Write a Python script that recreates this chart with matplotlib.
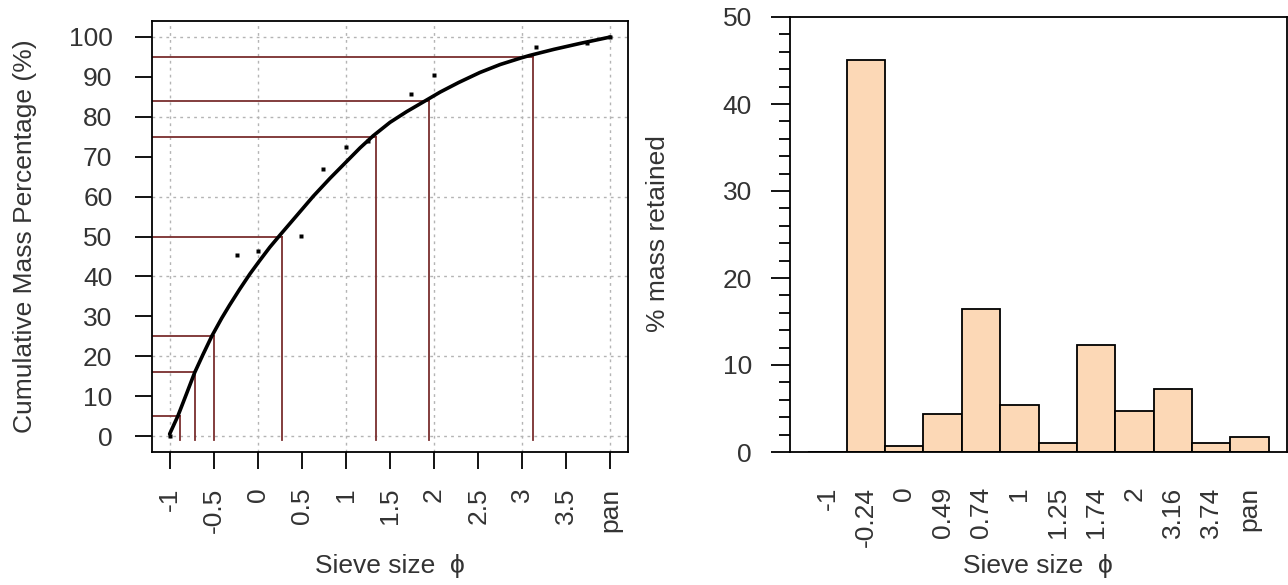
import numpy as np
import matplotlib
matplotlib.use("Agg")
import matplotlib.pyplot as plt
from matplotlib.ticker import MultipleLocator

plt.rcParams['font.family'] = ['Liberation Sans', 'DejaVu Sans']

# ---------------------------------------------------------------
# data
# ---------------------------------------------------------------
# cumulative points (phi, cumulative %); pan drawn at phi = 4
cum_phi = [-1, -0.24, 0, 0.49, 0.74, 1, 1.25, 1.74, 2, 3.16, 3.74, 4]
cum_pct = [0, 45.3, 46.3, 50.25, 67.0, 72.4, 74.0, 85.7, 90.5, 97.6, 98.6, 100]

# smoothed cumulative curve
curve_phi = [-1, -0.905, -0.81, -0.716, -0.62, -0.52, -0.41, -0.32, -0.205,
             -0.09, 0.023, 0.136, 0.25, 0.44, 0.63, 0.82, 1.008, 1.16, 1.31,
             1.5, 1.69, 1.9, 2.07, 2.28, 2.52, 2.75, 2.98, 3.09, 3.36, 3.66,
             3.96, 4]
curve_pct = [0.5, 5.1, 10.5, 15.9, 20.5, 25.1, 29.5, 32.8, 36.8,
             40.6, 44.0, 47.3, 50.3, 55.2, 60.1, 64.6, 68.8, 72.2, 75.25,
             78.6, 81.3, 84.0, 86.2, 88.6, 91.1, 93.1, 94.7, 95.4, 96.9, 98.4,
             99.8, 100]

# percentile read-offs
pctl = [5, 16, 25, 50, 75, 84, 95]
pctl_phi = [-0.88, -0.71, -0.50, 0.27, 1.34, 1.94, 3.12]

left_ticks = [-1, -0.5, 0, 0.5, 1, 1.5, 2, 2.5, 3, 3.5, 4]
left_ticklabels = ['-1', '-0.5', '0', '0.5', '1', '1.5', '2', '2.5', '3', '3.5', 'pan']

# histogram of mass retained per sieve
sieves = ['-1', '-0.24', '0', '0.49', '0.74', '1', '1.25', '1.74', '2',
          '3.16', '3.74', 'pan']
retained = [0, 45.0, 0.66, 4.33, 16.4, 5.37, 1.03, 12.3, 4.75, 7.2, 1.03, 1.69]

# ---------------------------------------------------------------
FS = 19
LINE_COL = '#7a2e2e'
GRID_COL = '#b4b4b4'
TXT = '#333333'

fig = plt.figure(figsize=(12.88, 5.85), dpi=100)
W, H = 1288, 585


def px_axes(l, t, r, b):
    return fig.add_axes([l / W, 1 - b / H, (r - l) / W, (b - t) / H])


# ---------------- left panel: cumulative curve ----------------
ax1 = px_axes(152, 21, 628, 452)
ax1.set_xlim(-1.2, 4.2)
ax1.set_ylim(-4, 104)

for gx in range(-1, 5):
    ax1.axvline(gx, color=GRID_COL, lw=1, ls=(0, (2, 3)), zorder=1)
for gy in range(0, 101, 20):
    ax1.axhline(gy, color=GRID_COL, lw=1, ls=(0, (2, 3)), zorder=1)

for p, ph in zip(pctl, pctl_phi):
    ax1.plot([-1.2, ph], [p, p], color=LINE_COL, lw=1.3, zorder=2)
    ax1.plot([ph, ph], [-1, p], color=LINE_COL, lw=1.3, zorder=2)

ax1.plot(curve_phi, curve_pct, color='black', lw=2.6, zorder=3,
         solid_capstyle='round', solid_joinstyle='round')
ax1.plot(cum_phi, cum_pct, ls='none', marker='s', ms=2.4, color='black',
         mec='none', zorder=4)

ax1.set_xticks(left_ticks)
ax1.set_xticklabels(left_ticklabels, rotation=90)
ax1.set_yticks(range(0, 101, 10))
ax1.tick_params(axis='x', length=12.5, width=1.3, pad=13, labelsize=FS,
                labelcolor=TXT)
ax1.tick_params(axis='y', length=12.5, width=1.3, pad=16, labelsize=FS,
                labelcolor=TXT)
for s in ax1.spines.values():
    s.set_linewidth(1.3)

fig.text(25 / W, 1 - 236 / H, 'Cumulative Mass Percentage (%)', rotation=90,
         ha='center', va='center', fontsize=FS, color=TXT)
fig.text(390 / W, 1 - 566 / H, 'Sieve size  \u03d5', ha='center', va='center',
         fontsize=FS, color=TXT)

# ---------------- right panel: histogram ----------------
ax2 = px_axes(790, 17, 1287, 452)
xpos = np.arange(len(sieves))
ax2.bar(xpos, retained, width=1.0, color='#fcd8b6', edgecolor='black',
        linewidth=1.3, zorder=2)
ax2.set_xlim(-0.98, 11.98)
ax2.set_ylim(0, 50)
ax2.set_xticks(xpos)
ax2.set_xticklabels(sieves, rotation=90)
ax2.tick_params(axis='x', length=0, pad=25, labelsize=FS, labelcolor=TXT)
ax2.set_yticks(range(0, 51, 10))
ax2.yaxis.set_minor_locator(MultipleLocator(2))
ax2.tick_params(axis='y', which='major', length=13.5, width=1.3, pad=14,
                labelsize=FS, labelcolor=TXT)
ax2.tick_params(axis='y', which='minor', length=8, width=1.3)
for s in ax2.spines.values():
    s.set_linewidth(1.3)

fig.text(658 / W, 1 - 234 / H, '% mass retained', rotation=90,
         ha='center', va='center', fontsize=FS, color=TXT)
fig.text(1038 / W, 1 - 566 / H, 'Sieve size  \u03d5', ha='center', va='center',
         fontsize=FS, color=TXT)

fig.savefig('out.png', dpi=100)
